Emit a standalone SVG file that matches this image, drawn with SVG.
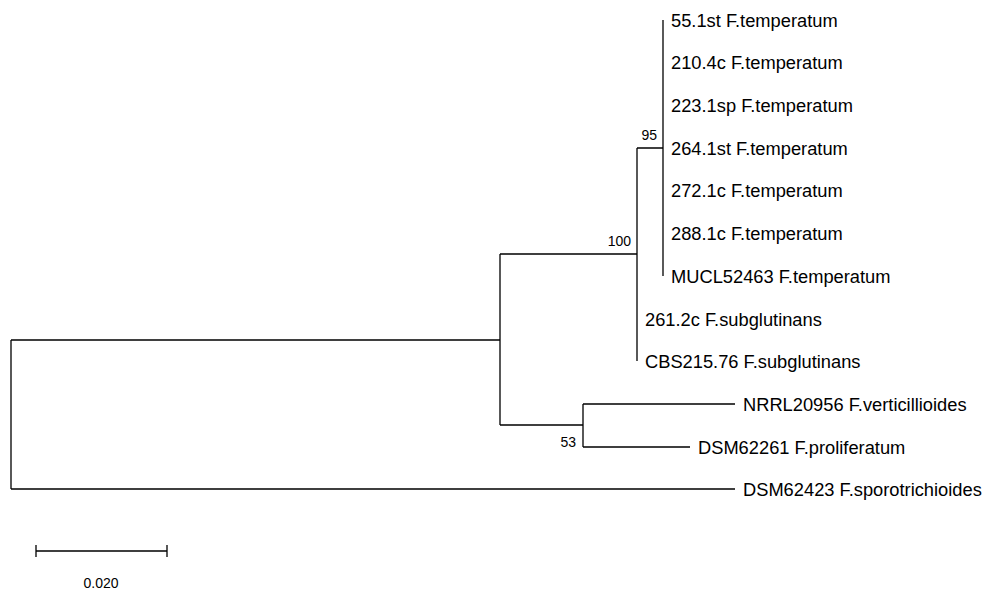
<svg xmlns="http://www.w3.org/2000/svg" width="989" height="592" viewBox="0 0 989 592">
<style>
.br{stroke:#000;stroke-width:1.3;fill:none}
.lf{font-family:"Liberation Sans",Arial,sans-serif;font-size:18.3px;fill:#000}
.bs{font-family:"Liberation Sans",Arial,sans-serif;font-size:14px;fill:#000}
</style>
<rect width="989" height="592" fill="#fff"/>
<g id="connectors">
<path class="br" d="M11,340 V489 M11,340 H500 M11,489 H735"/>
<path class="br" d="M500,254 V425 M500,254 H637 M500,425 H583"/>
<path class="br" d="M637,148 V361 M637,148 H663"/>
<path class="br" d="M663,20 V276"/>
<path class="br" d="M583,404 V447 M583,404 H735 M583,447 H690"/>
</g>
<g id="leaf1"><text class="lf" x="671" y="27">55.1st F.temperatum</text></g>
<g id="leaf2"><text class="lf" x="671" y="69">210.4c F.temperatum</text></g>
<g id="leaf3"><text class="lf" x="671" y="112">223.1sp F.temperatum</text></g>
<g id="leaf4"><text class="lf" x="671" y="155">264.1st F.temperatum</text></g>
<g id="leaf5"><text class="lf" x="671" y="197">272.1c F.temperatum</text></g>
<g id="leaf6"><text class="lf" x="671" y="240">288.1c F.temperatum</text></g>
<g id="leaf7"><text class="lf" x="671" y="283">MUCL52463 F.temperatum</text></g>
<g id="leaf8"><text class="lf" x="645" y="326">261.2c F.subglutinans</text></g>
<g id="leaf9"><text class="lf" x="645" y="368">CBS215.76 F.subglutinans</text></g>
<g id="leaf10"><text class="lf" x="743" y="411">NRRL20956 F.verticillioides</text></g>
<g id="leaf11"><text class="lf" x="698" y="454">DSM62261 F.proliferatum</text></g>
<g id="leaf12"><text class="lf" x="743" y="496">DSM62423 F.sporotrichioides</text></g>
<g id="bootstrap">
<text class="bs" x="657" y="140" text-anchor="end">95</text>
<text class="bs" x="631" y="246" text-anchor="end">100</text>
<text class="bs" x="576" y="447" text-anchor="end">53</text>
</g>
<g id="scale">
<path class="br" d="M36,551 H167 M36,545 V557 M167,545 V557"/>
<text class="bs" x="101" y="588" text-anchor="middle">0.020</text>
</g>
</svg>
